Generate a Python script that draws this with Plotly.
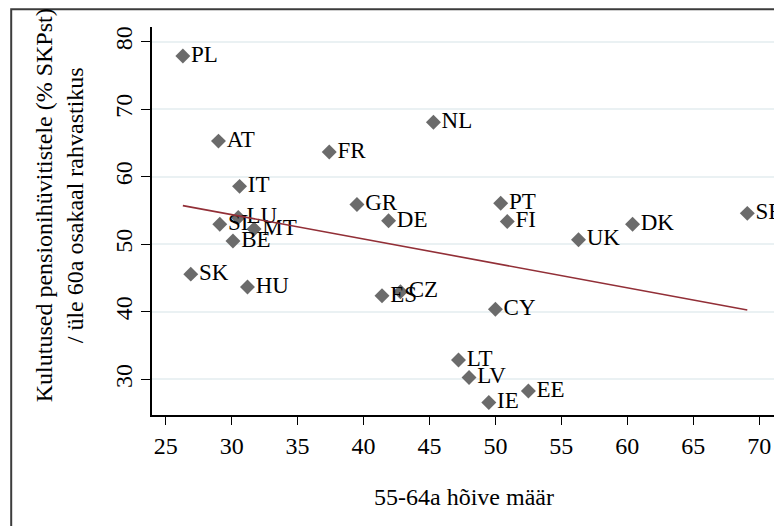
import plotly.graph_objects as go

# Kulutused pensionihüvitistele vs 55-64a hõive määr
countries = ["PL", "AT", "FR", "NL", "IT", "GR", "DE", "SI", "LU", "MT", "BE", "SK", "HU",
             "ES", "CZ", "PT", "FI", "UK", "DK", "SE", "CY", "LT", "LV", "EE", "IE"]
employment = [26.3, 29.0, 37.4, 45.3, 30.6, 39.5, 41.9, 29.1, 30.5, 31.7, 30.1, 26.9, 31.2,
              41.4, 42.8, 50.4, 50.9, 56.3, 60.4, 69.1, 50.0, 47.2, 48.0, 52.5, 49.5]
pension = [77.9, 65.3, 63.7, 68.1, 58.6, 55.9, 53.5, 53.0, 54.0, 52.3, 50.5, 45.6, 43.7,
           42.4, 43.0, 56.1, 53.4, 50.7, 53.0, 54.6, 40.4, 32.9, 30.3, 28.3, 26.6]

# fitted line end points
fit_x = [26.3, 69.1]
fit_y = [55.75, 40.3]

x_ticks = [25, 30, 35, 40, 45, 50, 55, 60, 65, 70]
y_ticks = [30, 40, 50, 60, 70, 80]

serif = "Liberation Serif, Times New Roman, serif"

fig = go.Figure()
fig.add_trace(go.Scatter(
    x=employment, y=pension, mode="markers+text", text=countries,
    textposition="middle right",
    marker=dict(symbol="diamond", size=11.5, color="#6b6b6b"),
    textfont=dict(family=serif, size=23, color="black"),
    cliponaxis=False, showlegend=False,
))
fig.add_trace(go.Scatter(
    x=fit_x, y=fit_y, mode="lines",
    line=dict(color="#922f37", width=1.6), showlegend=False,
))

fig.update_xaxes(
    range=[23.96, 71.2], tickvals=x_ticks, ticks="outside", ticklen=8,
    tickcolor="black", showline=True, linecolor="black", linewidth=1.5,
    showgrid=False, zeroline=False,
    tickfont=dict(family=serif, size=24, color="black"),
)
fig.update_yaxes(
    range=[24.74, 82.2], tickvals=y_ticks, ticks="outside", ticklen=9,
    tickcolor="black", showline=True, linecolor="black", linewidth=1.5,
    showgrid=True, gridcolor="#eaf1f3", gridwidth=2, zeroline=False,
    tickangle=-90, tickfont=dict(family=serif, size=24, color="black"),
)

# page body has an 8px margin, so the figure is a bit smaller than the window
fig.update_layout(
    width=774, height=518,
    margin=dict(l=144, r=7, t=19, b=111),
    paper_bgcolor="white", plot_bgcolor="white",
    annotations=[
        dict(text="55-64a hõive määr", xref="paper", yref="paper",
             x=0.5, y=-0.211, xanchor="center", yanchor="middle", showarrow=False,
             font=dict(family=serif, size=24, color="black")),
        dict(text="Kulutused pensionihüvitistele (% SKPst)<br>/ üle 60a osakaal rahvastikus",
             xref="paper", yref="paper", x=-0.149, y=0.541, textangle=-90,
             xanchor="center", yanchor="middle", showarrow=False,
             font=dict(family=serif, size=24, color="black")),
    ],
    shapes=[
        dict(type="rect", xref="paper", yref="paper", x0=-0.226, y0=-0.32,
             x1=1.05, y1=1.046, line=dict(color="#3c3c3c", width=2), layer="below"),
    ],
)

fig.write_html("out.html")
